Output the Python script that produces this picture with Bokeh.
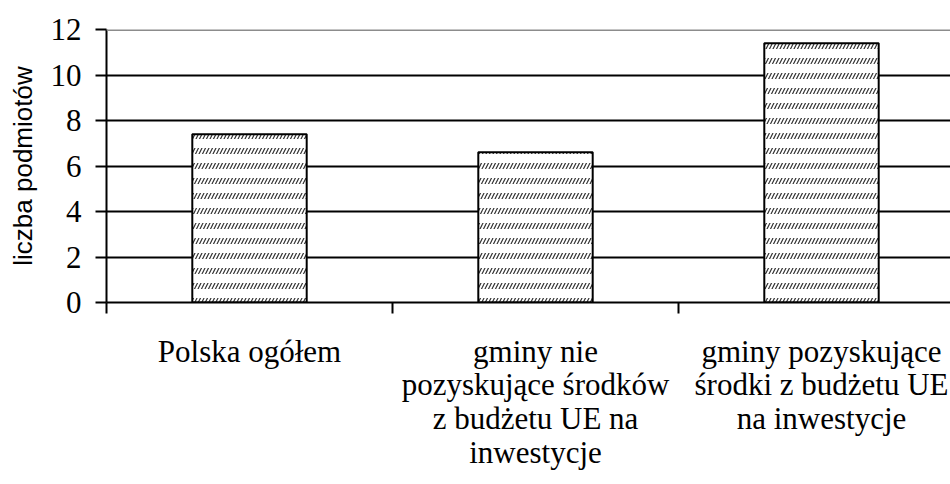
from bokeh.plotting import figure
from bokeh.models import FixedTicker, Span, Range1d, ColumnDataSource
from bokeh.embed import file_html
from bokeh.resources import INLINE

categories = ["Polska ogółem",
              "gminy nie\npozyskujące środków\nz budżetu UE na\ninwestycje",
              "gminy pozyskujące\nśrodki z budżetu UE\nna inwestycje"]
values = [7.4, 6.6, 11.4]
y_ticks = [0, 2, 4, 6, 8, 10, 12]

SERIF = "Liberation Serif"
SANS = "Liberation Sans"

xpos = [i + 0.5 for i in range(len(categories))]
src = ColumnDataSource(dict(x=xpos, top=values))

p = figure(width=950, height=484, output_backend="svg", toolbar_location=None,
           x_range=Range1d(0, 844 / 286), y_range=Range1d(0, 12),
           min_border_left=106, min_border_top=29, min_border_bottom=182,
           min_border_right=0)
p.outline_line_color = None
p.background_fill_color = "white"

# bars: short diagonal dashes arranged in rows
p.vbar(x="x", top="top", bottom=0, width=0.4, source=src,
       fill_color="white", line_color=None,
       hatch_pattern="/", hatch_color="#333333", hatch_scale=7, hatch_weight=1.2)
p.vbar(x="x", top="top", bottom=0, width=0.4, source=src,
       fill_color=None, line_color=None,
       hatch_pattern="-", hatch_color="white", hatch_scale=15, hatch_weight=9)
p.vbar(x="x", top="top", bottom=0, width=0.4, source=src,
       fill_color=None, line_color="black", line_width=2)

# grid
p.xgrid.visible = False
p.ygrid.ticker = FixedTicker(ticks=[t for t in y_ticks if 0 < t < 12])
p.ygrid.grid_line_color = "black"
p.ygrid.grid_line_width = 2
p.add_layout(Span(location=12, dimension="width", line_color="#8c8c8c", line_width=3))

# y axis
p.yaxis.ticker = FixedTicker(ticks=y_ticks)
p.yaxis.axis_line_width = 2
p.yaxis.axis_line_color = "black"
p.yaxis.major_tick_out = 11
p.yaxis.major_tick_in = 0
p.yaxis.major_tick_line_width = 2
p.yaxis.major_tick_line_color = "black"
p.yaxis.minor_tick_line_color = None
p.yaxis.major_label_text_font = SERIF
p.yaxis.major_label_text_font_size = "31px"
p.yaxis.major_label_text_color = "black"
p.yaxis.major_label_standoff = 14
p.yaxis.axis_label = "liczba podmiotów"
p.yaxis.axis_label_text_font = SANS
p.yaxis.axis_label_text_font_size = "26px"
p.yaxis.axis_label_text_font_style = "normal"
p.yaxis.axis_label_text_color = "black"
p.yaxis.axis_label_standoff = 10

# x axis
p.xaxis.ticker = FixedTicker(ticks=xpos, minor_ticks=[0, 1, 2])
p.xaxis.major_label_overrides = {x: c for x, c in zip(xpos, categories)}
p.xaxis.axis_line_width = 2
p.xaxis.axis_line_color = "black"
p.xaxis.major_tick_out = 0
p.xaxis.major_tick_in = 0
p.xaxis.minor_tick_out = 11
p.xaxis.minor_tick_in = 0
p.xaxis.minor_tick_line_width = 2
p.xaxis.minor_tick_line_color = "black"
p.xaxis.major_label_text_font = SERIF
p.xaxis.major_label_text_font_size = "31px"
p.xaxis.major_label_text_color = "black"
p.xaxis.major_label_text_line_height = 0.97
p.xaxis.major_label_standoff = 20

open("out.html", "w").write(file_html(p, INLINE))
